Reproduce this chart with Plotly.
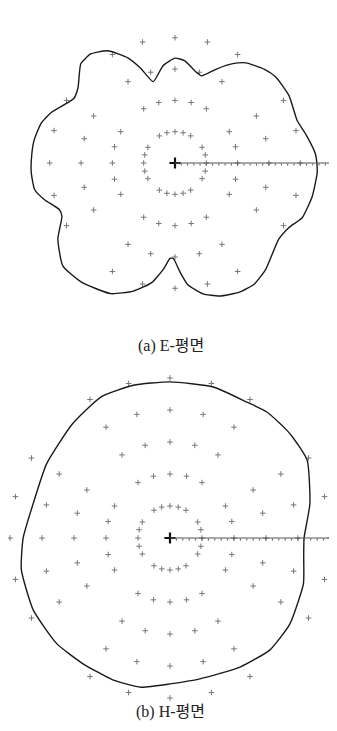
import plotly.graph_objects as go

# E-평면 패턴 (각도 deg, 반경: 동심원 눈금 단위)
e_theta = [0, 3.9, 12.7, 19.2, 30.6, 40.5, 46.5, 54.7, 59.8, 66.2, 73, 76.6,
           84.5, 90, 97, 105, 110, 114, 121, 127.7, 133.5, 142.2, 147.5, 157.8,
           163.5, 171, 179, 184, 190.8, 195.7, 202, 205.2, 213, 222.5, 231.7,
           243.8, 252, 259, 263.8, 267, 269, 272.6, 276, 282, 288.5, 296.5,
           303.3, 310.6, 323.7, 330.4, 336.7, 346.3, 355.9, 360]
e_r = [4.53, 4.49, 4.27, 4.13, 4.23, 4.23, 4.13, 3.92, 3.67, 3.28, 2.91, 2.97,
       3.28, 3.35, 3.13, 2.69, 3.23, 3.67, 4.18, 4.40, 4.37, 3.92, 3.83, 4.27,
       4.46, 4.56, 4.59, 4.60, 4.56, 4.33, 3.98, 3.99, 4.46, 4.86, 4.84, 4.65,
       4.30, 3.89, 3.41, 3.05, 3.05, 3.48, 3.91, 4.27, 4.48, 4.61, 4.62, 4.46,
       4.11, 4.18, 4.42, 4.51, 4.55, 4.53]

# H-평면 패턴
h_theta = [0, 13.7, 29.6, 41, 52.4, 60.5, 74, 90, 103.5, 116, 130.7, 149, 166,
           180, 192, 207.7, 223, 235, 248, 259, 270, 282, 298.5, 311.8, 324.4,
           341, 352, 360]
h_r = [4.19, 4.50, 4.93, 4.97, 4.97, 4.88, 4.91, 4.88, 4.91, 4.91, 4.69, 4.50,
       4.41, 4.59, 4.75, 4.83, 4.84, 4.78, 4.78, 4.75, 4.56, 4.50, 4.59, 4.69,
       4.61, 4.41, 4.22, 4.19]

# 격자: 동심원 눈금과 방사선 각도
ring_levels = [1, 2, 3, 4, 5]
spoke_angles = [0, 15, 30, 60, 75, 90, 105, 120, 150, 165, 180, 195, 210,
                240, 255, 270, 285, 300, 330, 345]

captions = ["(a) E-평면", "(b) H-평면"]

grid_r = [r for r in ring_levels for a in spoke_angles]
grid_t = [a for r in ring_levels for a in spoke_angles]

fig = go.Figure()

for name, th, rr in [("polar", e_theta, e_r), ("polar2", h_theta, h_r)]:
    fig.add_trace(go.Scatterpolar(
        r=grid_r, theta=grid_t, mode="markers", subplot=name, cliponaxis=False,
        marker=dict(symbol="cross-thin", size=4, line=dict(width=1, color="#777")),
        hoverinfo="skip", showlegend=False,
    ))
    fig.add_trace(go.Scatterpolar(
        r=[0], theta=[0], mode="markers", subplot=name,
        marker=dict(symbol="cross-thin", size=8, line=dict(width=2.2, color="#111")),
        hoverinfo="skip", showlegend=False,
    ))
    fig.add_trace(go.Scatterpolar(
        r=rr, theta=th, mode="lines", subplot=name,
        line=dict(color="#1a1a1a", width=1.4, shape="spline", smoothing=0.5),
        showlegend=False,
    ))

def polar_style(rmax):
    return dict(
        bgcolor="white",
        radialaxis=dict(range=[0, rmax], showgrid=False, showticklabels=False,
                        showline=True, linecolor="#555", linewidth=1,
                        ticks="outside", tickvals=[i * 0.2 for i in range(1, 25)],
                        ticklen=2, tickcolor="#555", angle=0),
        angularaxis=dict(showgrid=False, showline=False, showticklabels=False,
                         ticks="", rotation=0, direction="counterclockwise"),
    )

# 페이지 본문 여백(8px)을 감안한 위치
fig.update_layout(
    width=337, height=731,
    margin=dict(l=0, r=0, t=0, b=0),
    paper_bgcolor="white",
    polar=dict(domain=dict(x=[0.0356, 0.9555], y=[0.5759, 1.0]), **polar_style(4.95)),
    polar2=dict(domain=dict(x=[0.0059, 0.9555], y=[0.0561, 0.4938]), **polar_style(5.0)),
    font=dict(family="Liberation Serif, Noto Sans CJK KR", color="#222"),
)

fig.add_annotation(text=captions[0], x=163 / 337, y=1 - 338 / 731,
                   xref="paper", yref="paper", showarrow=False,
                   xanchor="center", yanchor="middle", font=dict(size=16))
fig.add_annotation(text=captions[1], x=162 / 337, y=1 - 704 / 731,
                   xref="paper", yref="paper", showarrow=False,
                   xanchor="center", yanchor="middle", font=dict(size=16))

fig.write_html("out.html")
